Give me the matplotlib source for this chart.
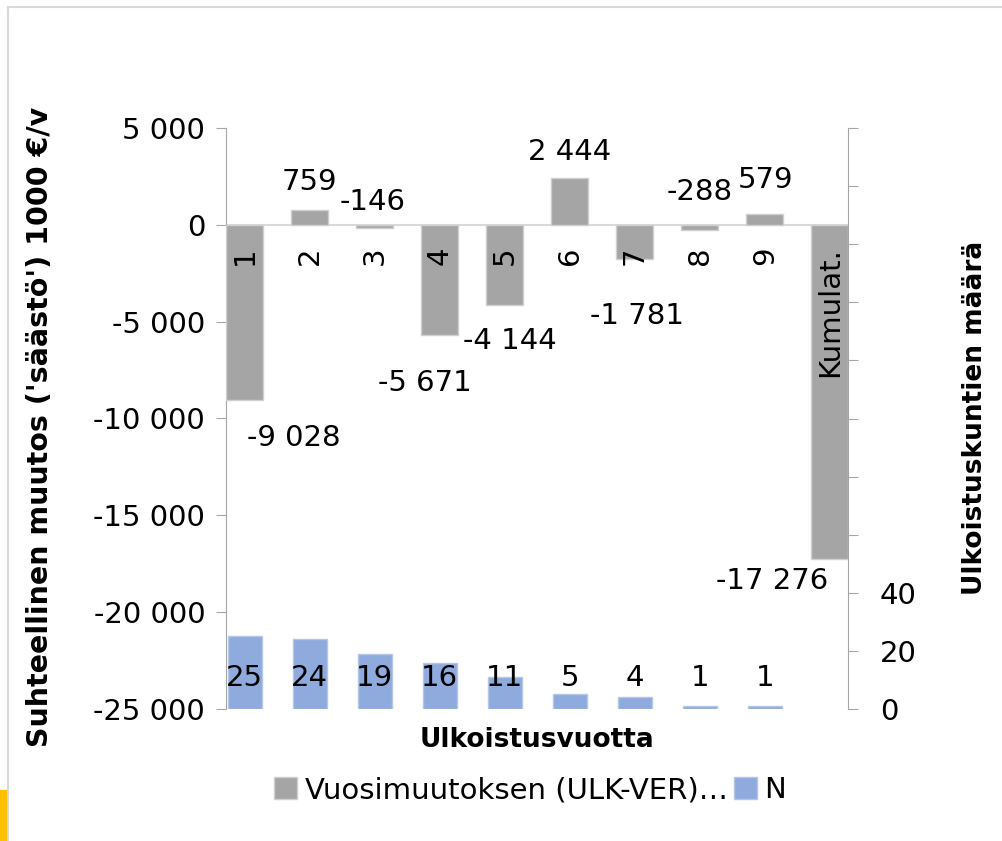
import matplotlib
matplotlib.use("Agg")
import matplotlib.pyplot as plt
from matplotlib.patches import Rectangle, Patch

plt.rcParams['font.family'] = ['DejaVu Sans']

# data
categories = ['1', '2', '3', '4', '5', '6', '7', '8', '9', 'Kumulat.']
muutos = [-9028, 759, -146, -5671, -4144, 2444, -1781, -288, 579, -17276]
muutos_txt = ['-9 028', '759', '-146', '-5 671', '-4 144', '2 444', '-1 781', '-288', '579', '-17 276']
n_kunnat = [25, 24, 19, 16, 11, 5, 4, 1, 1]
# label offsets in pixels (dx, dy to baseline) relative to bar end
lab_off = [(49, -46), (0, 20), (-2, 18), (-15, -56), (5, -44), (0, 18), (2, -65), (0, 30), (1, 26), (-58, -30)]

left_ticks = [5000, 0, -5000, -10000, -15000, -20000, -25000]
left_ticklabels = ['5 000', '0', '-5 000', '-10 000', '-15 000', '-20 000', '-25 000']
right_ticks = list(range(0, 201, 20))
right_ticklabels = ['0', '20', '40'] + [''] * 8

GRAY = '#a5a5a5'
BLUE = '#8faadc'
AXC = '#a6a6a6'
FS = 21

fig = plt.figure(figsize=(10.02, 8.41), dpi=100)
ax = fig.add_axes([226 / 1002, 1 - 709 / 841, (848 - 226) / 1002, (709 - 128) / 841])
ax2 = ax.twinx()

x = list(range(len(categories)))
ax.bar(x, muutos, width=0.57, color=GRAY, edgecolor='#cfcfcf', linewidth=1, zorder=3)
ax.axhline(0, color='#d9d9d9', lw=1.5, zorder=2)
ax.set_ylim(-25000, 5000)
ax.set_xlim(-0.29, 9.28)
ax.set_yticks(left_ticks)
ax.set_yticklabels(left_ticklabels)
ax.set_xticks([])
for s in ['top', 'bottom', 'right']:
    ax.spines[s].set_visible(False)
ax.spines['left'].set_color(AXC)
ax.tick_params(axis='y', length=7, color=AXC, labelsize=FS, pad=8)

# category labels under zero line (read bottom to top)
for i, c in enumerate(categories):
    ax.annotate(c, (i, 0), xytext=(0, -22), textcoords='offset pixels',
                rotation=90, ha='center', va='top', fontsize=FS, zorder=5)

# value labels
for i, (v, t) in enumerate(zip(muutos, muutos_txt)):
    dx, dy = lab_off[i]
    ax.annotate(t, (i, v), xytext=(dx, dy), textcoords='offset pixels',
                ha='center', va='baseline', fontsize=FS, zorder=5)

# right axis
xn = list(range(len(n_kunnat)))
ax2.bar(xn, n_kunnat, width=0.52, color=BLUE, edgecolor='#b4c7e7', linewidth=1, zorder=3)
for i, v in enumerate(n_kunnat):
    ax2.text(i, 8, str(v), ha='center', va='baseline', fontsize=FS, zorder=5)
ax2.set_ylim(0, 200)
ax2.set_yticks(right_ticks)
ax2.set_yticklabels(right_ticklabels)
for s in ['top', 'bottom', 'left']:
    ax2.spines[s].set_visible(False)
ax2.spines['right'].set_color(AXC)
ax2.tick_params(axis='y', length=7, color=AXC, labelsize=FS, pad=16)

fig.text(40 / 1002, 1 - 427 / 841, "Suhteellinen muutos ('säästö') 1000 €/v",
         rotation=90, ha='center', va='center', fontsize=20.5, fontweight='bold')
fig.text(975 / 1002, 1 - 418 / 841, "Ulkoistuskuntien määrä",
         rotation=90, ha='center', va='center', fontsize=19, fontweight='bold')
fig.text(537 / 1002, 1 - 740 / 841, "Ulkoistusvuotta",
         ha='center', va='center', fontsize=19, fontweight='bold')

handles = [Patch(facecolor=GRAY, edgecolor='#cfcfcf'), Patch(facecolor=BLUE, edgecolor='#b4c7e7')]
fig.legend(handles, ['Vuosimuutoksen (ULK-VER)…', 'N'], loc='center', ncol=2,
           bbox_to_anchor=(530 / 1002, 1 - 790 / 841), frameon=False, fontsize=FS,
           handlelength=0.8, handleheight=0.8, handletextpad=0.25, columnspacing=0.2)

# outer frame and cropped strip
fig.add_artist(plt.Line2D([8 / 1002, 8 / 1002], [0, 1 - 7 / 841], color='#d9d9d9', lw=1.5))
fig.add_artist(plt.Line2D([8 / 1002, 1], [1 - 7 / 841, 1 - 7 / 841], color='#d9d9d9', lw=1.5))
fig.add_artist(Rectangle((0, 0), 7 / 1002, 51 / 841, transform=fig.transFigure, color='#ffc000'))

fig.savefig('out.png', dpi=100)
